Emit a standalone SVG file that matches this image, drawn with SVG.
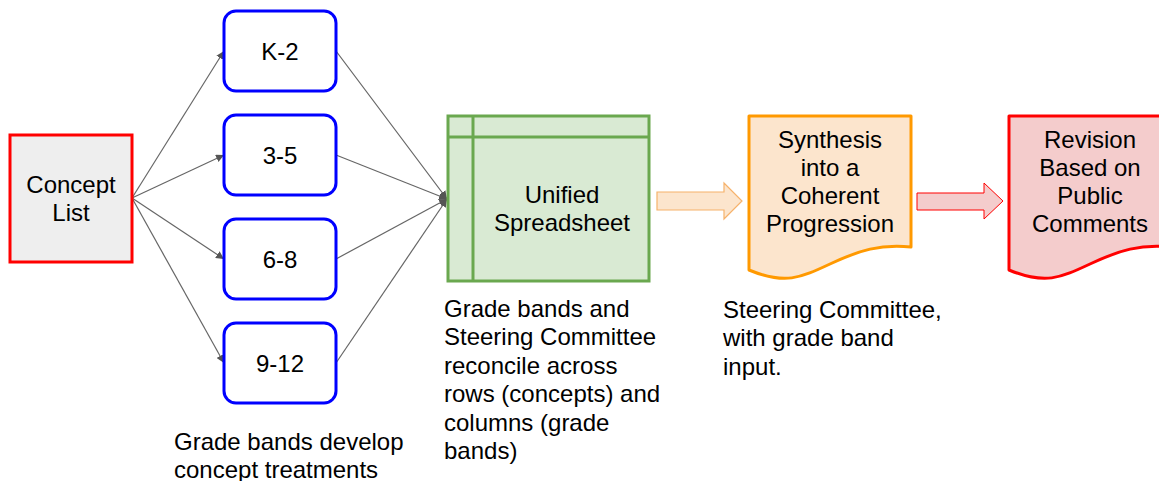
<svg xmlns="http://www.w3.org/2000/svg" width="1159" height="481" viewBox="0 0 1159 481">
<style>
text{font-family:"Liberation Sans",Arial,sans-serif;font-size:24px;fill:#000}
.c{text-anchor:middle}
.band{fill:#fff;stroke:#0000ff;stroke-width:3}
.conn{stroke:#666;stroke-width:1.2;fill:none;marker-end:url(#ah)}
</style>
<defs>
<marker id="ah" viewBox="0 0 10 10" refX="10" refY="5" markerWidth="8" markerHeight="8" markerUnits="userSpaceOnUse" orient="auto">
<path d="M0,0 L10,5 L0,10 z" fill="#555"/>
</marker>
</defs>
<rect width="1159" height="481" fill="#fff"/>
<g id="connectors">
<line class="conn" x1="132" y1="198" x2="224" y2="51"/>
<line class="conn" x1="132" y1="198" x2="224" y2="155"/>
<line class="conn" x1="132" y1="198" x2="224" y2="259"/>
<line class="conn" x1="132" y1="198" x2="224" y2="363"/>
<line class="conn" x1="336" y1="51" x2="447" y2="199"/>
<line class="conn" x1="336" y1="155" x2="447" y2="199"/>
<line class="conn" x1="336" y1="259" x2="447" y2="199"/>
<line class="conn" x1="336" y1="363" x2="447" y2="199"/>
</g>
<g id="concept-list">
<rect x="10" y="135" width="122" height="127" fill="#eeeeee" stroke="#ff0000" stroke-width="3"/>
<text class="c" x="71" y="193">Concept</text>
<text class="c" x="71" y="221">List</text>
</g>
<g id="k2">
<rect class="band" x="224" y="11" width="112" height="80" rx="12"/>
<text class="c" x="280" y="60">K-2</text>
</g>
<g id="g35">
<rect class="band" x="224" y="115" width="112" height="80" rx="12"/>
<text class="c" x="280" y="164">3-5</text>
</g>
<g id="g68">
<rect class="band" x="224" y="219" width="112" height="80" rx="12"/>
<text class="c" x="280" y="268">6-8</text>
</g>
<g id="g912">
<rect class="band" x="224" y="323" width="112" height="80" rx="12"/>
<text class="c" x="280" y="372">9-12</text>
</g>
<g id="caption-grade-bands">
<text x="174" y="450">Grade bands develop</text>
<text x="174" y="478">concept treatments</text>
</g>
<g id="spreadsheet">
<rect x="448" y="116" width="201" height="165" fill="#d9ead3" stroke="#6aa84f" stroke-width="3"/>
<line x1="448" y1="137" x2="649" y2="137" stroke="#6aa84f" stroke-width="3"/>
<line x1="473" y1="116" x2="473" y2="281" stroke="#6aa84f" stroke-width="3"/>
<text class="c" x="562" y="203">Unified</text>
<text class="c" x="562" y="231">Spreadsheet</text>
</g>
<g id="caption-spreadsheet">
<text x="444" y="317">Grade bands and</text>
<text x="444" y="345">Steering Committee</text>
<text x="444" y="374">reconcile across</text>
<text x="444" y="402">rows (concepts) and</text>
<text x="444" y="431">columns (grade</text>
<text x="444" y="459">bands)</text>
</g>
<g id="arrow-orange">
<path d="M657,192 H724 V183 L742,201 L724,219 V210 H657 Z" fill="#fce5cd" stroke="#f6b26b" stroke-width="1.2"/>
</g>
<g id="synthesis">
<path d="M749,116 H911 V247 C880,244 860,250 830,264 C800,278 785,285 749,270 Z" fill="#fce5cd" stroke="#ff9900" stroke-width="3" stroke-linejoin="round"/>
<text class="c" x="830" y="148">Synthesis</text>
<text class="c" x="830" y="176">into a</text>
<text class="c" x="830" y="204">Coherent</text>
<text class="c" x="830" y="232">Progression</text>
</g>
<g id="caption-synthesis">
<text x="723" y="318">Steering Committee,</text>
<text x="723" y="346">with grade band</text>
<text x="723" y="375">input.</text>
</g>
<g id="arrow-red">
<path d="M917,193 H984 V183 L1003,201 L984,219 V210 H917 Z" fill="#f4cccc" stroke="#ff0000" stroke-width="1"/>
</g>
<g id="revision">
<path d="M1009,116 H1171 V247 C1140,244 1120,250 1090,264 C1060,278 1045,285 1009,270 Z" fill="#f4cccc" stroke="#ff0000" stroke-width="3" stroke-linejoin="round"/>
<text class="c" x="1090" y="148">Revision</text>
<text class="c" x="1090" y="176">Based on</text>
<text class="c" x="1090" y="204">Public</text>
<text class="c" x="1090" y="232">Comments</text>
</g>
</svg>
